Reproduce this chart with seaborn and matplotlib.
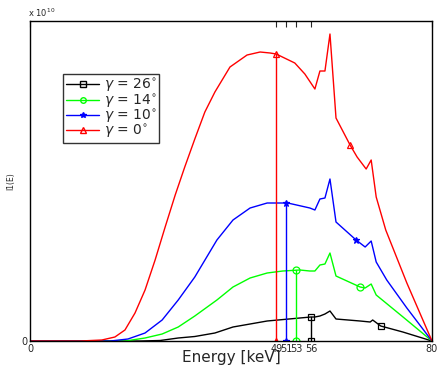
import numpy as np
import pandas as pd
import matplotlib
matplotlib.use("Agg")
import matplotlib.pyplot as plt
import seaborn as sns
from matplotlib.lines import Line2D

# spectra in units of 1e10
energy_red = [0, 10, 14.3, 16.9, 18.9, 20.9, 22.9, 24.9, 26.9, 28.9, 30.8, 32.8, 34.8, 36.8,
              39.8, 43.2, 45.8, 47.8, 49.0, 52.7, 54.7, 56.7, 57.7, 58.7, 59.7, 60.9, 63.7,
              65.1, 66.9, 67.9, 68.9, 70.8, 75.0, 80]
flux_red = [0, 0, 0.01, 0.04, 0.11, 0.28, 0.51, 0.81, 1.14, 1.46, 1.74, 2.02, 2.29, 2.49,
            2.74, 2.86, 2.89, 2.88, 2.87, 2.78, 2.67, 2.52, 2.70, 2.70, 3.07, 2.23, 1.96,
            1.84, 1.72, 1.81, 1.44, 1.11, 0.58, 0]

energy_blue = [0, 10, 16, 19.5, 22.9, 26.3, 29.5, 32.8, 37.2, 40.4, 43.8, 47.2, 50.3, 51.3,
               55.7, 56.7, 57.7, 58.7, 59.7, 60.9, 64.9, 66.7, 67.9, 68.9, 71.0, 75.0, 80]
flux_blue = [0, 0, 0, 0.02, 0.08, 0.21, 0.41, 0.64, 1.01, 1.21, 1.33, 1.38, 1.38, 1.38,
             1.33, 1.31, 1.42, 1.43, 1.62, 1.19, 1.01, 0.94, 1.00, 0.79, 0.61, 0.33, 0]

energy_green = [0, 10, 19, 22.9, 26.3, 29.5, 32.8, 37.2, 40.4, 43.8, 47.2, 50.3, 53.7, 55.7,
                56.7, 57.7, 58.7, 59.7, 60.9, 65.7, 66.7, 67.9, 68.9, 74.0, 80]
flux_green = [0, 0, 0, 0.03, 0.07, 0.14, 0.25, 0.41, 0.54, 0.63, 0.68, 0.70, 0.71, 0.70,
              0.70, 0.76, 0.77, 0.88, 0.65, 0.54, 0.53, 0.57, 0.46, 0.25, 0]

energy_black = [0, 10, 22, 25.9, 29.5, 32.8, 36.8, 40.4, 47.2, 53.7, 55.9, 56.7, 57.7, 58.7,
                59.7, 60.9, 65.7, 67.7, 68.2, 69.8, 74.2, 80]
flux_black = [0, 0, 0, 0.005, 0.03, 0.045, 0.08, 0.14, 0.20, 0.23, 0.24, 0.24, 0.25, 0.27,
              0.30, 0.22, 0.20, 0.19, 0.21, 0.15, 0.09, 0]

labels = [r"$\gamma$ = 26$^{\circ}$", r"$\gamma$ = 14$^{\circ}$",
          r"$\gamma$ = 10$^{\circ}$", r"$\gamma$ = 0$^{\circ}$"]
mean_energy = [56, 53, 51, 49]
second_marker = [69.8, 65.7, 64.9, 63.7]
colors = ["black", "#00ff00", "#0000ff", "#ff0000"]
markers = ["s", "o", "*", "^"]

series = [(energy_black, flux_black), (energy_green, flux_green),
          (energy_blue, flux_blue), (energy_red, flux_red)]

frames = []
for lab, (e, f) in zip(labels, series):
    frames.append(pd.DataFrame({"E": e, "I": f, "gamma": lab}))
df = pd.concat(frames, ignore_index=True)

sns.set_style("white")
plt.rcParams["font.family"] = ["DejaVu Sans"]
plt.rcParams["mathtext.fontset"] = "dejavusans"

fig = plt.figure(figsize=(4.39, 3.66), dpi=100)
ax = fig.add_axes([0.0683, 0.0683, 0.9157, 0.8743])

sns.lineplot(data=df, x="E", y="I", hue="gamma", palette=dict(zip(labels, colors)),
             sort=False, estimator=None, linewidth=1, legend=False, ax=ax)

for i, lab in enumerate(labels):
    e, f = series[i]
    m = mean_energy[i]
    ym = np.interp(m, e, f)
    ax.plot([m, m], [0, ym], color=colors[i], lw=1)
    pts_x = [m, m, second_marker[i]]
    pts_y = [0, ym, np.interp(second_marker[i], e, f)]
    fc = colors[i] if markers[i] == "*" else "none"
    ax.plot(pts_x, pts_y, ls="none", marker=markers[i], ms=5,
            mfc=fc, mec=colors[i], mew=0.9)

ax.set_xlim(0, 80)
ax.set_ylim(0, 3.2)
ax.set_xticks([0, 49, 51, 53, 56, 80])
ax.set_xticklabels(["0", "49", "51", "53", "56", "80"])
ax.set_yticks([0])
ax.tick_params(axis="both", direction="in", labelsize=7, length=4, width=0.8,
               top=True, pad=2)
for s in ax.spines.values():
    s.set_color("black")
    s.set_linewidth(1)
ax.set_xlabel("Energy [keV]", fontsize=11, labelpad=-3)
ax.set_ylabel("I1(E)", fontsize=5.5, labelpad=4)
fig.text(0.064, 0.948, r"x 10$^{10}$", fontsize=6, ha="left", va="bottom")

handles = [Line2D([0], [0], color=c, marker=mk, lw=1, ms=4,
                  mfc=(c if mk == "*" else "none"), mec=c) for c, mk in zip(colors, markers)]
leg = ax.legend(handles, labels, loc="upper left", bbox_to_anchor=(0.083, 0.835),
                fontsize=10, frameon=True, fancybox=False, handlelength=2.4,
                handletextpad=0.3, labelspacing=-0.15, borderpad=0.2, borderaxespad=0)
leg.get_frame().set_edgecolor("black")
leg.get_frame().set_linewidth(1)

fig.savefig("out.png", dpi=100)
